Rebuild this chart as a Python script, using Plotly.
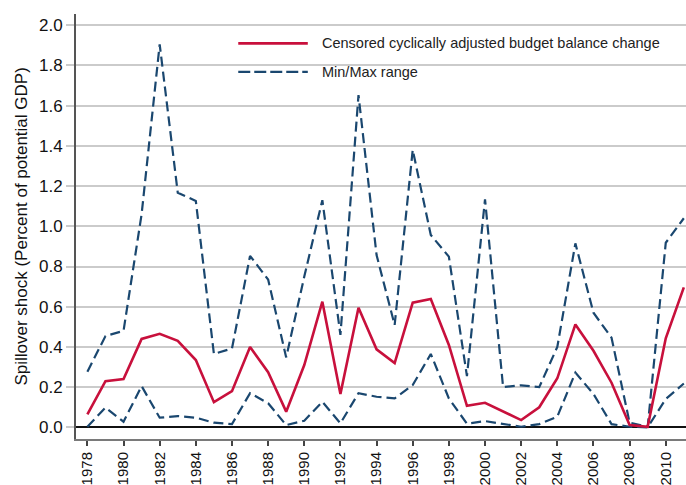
import plotly.graph_objects as go

years = list(range(1978, 2012))

# censored cyclically adjusted budget balance change
censored = [0.065, 0.23, 0.24, 0.44, 0.465, 0.43, 0.335, 0.125, 0.18,
            0.40, 0.274, 0.078, 0.31, 0.625, 0.166, 0.595, 0.388, 0.32,
            0.62, 0.638, 0.41, 0.107, 0.122, 0.078, 0.036, 0.10, 0.244,
            0.512, 0.381, 0.222, 0.011, 0.003, 0.443, 0.696]

# min / max range
range_max = [0.277, 0.454, 0.48, 1.06, 1.905, 1.167, 1.126, 0.365, 0.392,
             0.853, 0.735, 0.348, 0.75, 1.13, 0.46, 1.653, 0.857, 0.509,
             1.38, 0.957, 0.849, 0.255, 1.134, 0.20, 0.209, 0.20, 0.40,
             0.915, 0.57, 0.446, 0.023, 0.003, 0.918, 1.04]
range_min = [0.003, 0.098, 0.028, 0.205, 0.048, 0.056, 0.048, 0.023, 0.016,
             0.17, 0.12, 0.011, 0.033, 0.127, 0.02, 0.17, 0.152, 0.144,
             0.21, 0.365, 0.144, 0.018, 0.031, 0.016, 0.003, 0.016, 0.053,
             0.272, 0.166, 0.016, 0.003, 0.0, 0.141, 0.218]

xtick_vals = list(range(1978, 2012, 2))
ytick_vals = [0.0, 0.2, 0.4, 0.6, 0.8, 1.0, 1.2, 1.4, 1.6, 1.8, 2.0]

red = '#c8103c'
navy = '#1a476f'
grid_color = '#cbcbcb'
font_family = 'Liberation Sans, Arial, sans-serif'

fig = go.Figure()

fig.add_trace(go.Scatter(x=years, y=range_max, mode='lines',
                         line=dict(color=navy, width=2.2, dash='10px,5px'),
                         name='Min/Max range', showlegend=False))
fig.add_trace(go.Scatter(x=years, y=range_min, mode='lines',
                         line=dict(color=navy, width=2.2, dash='10px,5px'),
                         name='Min/Max range', showlegend=False))
fig.add_trace(go.Scatter(x=years, y=censored, mode='lines',
                         line=dict(color=red, width=2.6),
                         name='Censored cyclically adjusted budget balance change',
                         showlegend=False))

# hand-drawn legend (white box covering the gridlines, long line samples)
shapes = [
    dict(type='rect', xref='paper', yref='paper', x0=0.246, x1=1.0, y0=0.822, y1=1.0,
         fillcolor='white', line=dict(width=0), layer='between'),
    dict(type='line', xref='paper', yref='paper', x0=0.266, x1=0.38, y0=0.931, y1=0.931,
         line=dict(color=red, width=2.6)),
    dict(type='line', xref='paper', yref='paper', x0=0.266, x1=0.38, y0=0.864, y1=0.864,
         line=dict(color=navy, width=2.2, dash='12px,4px')),
]
annotations = [
    dict(xref='paper', yref='paper', x=0.400, y=0.931, xanchor='left', yanchor='middle',
         text='Censored cyclically adjusted budget balance change', showarrow=False,
         font=dict(family=font_family, size=14.5, color='#222222')),
    dict(xref='paper', yref='paper', x=0.400, y=0.864, xanchor='left', yanchor='middle',
         text='Min/Max range', showarrow=False,
         font=dict(family=font_family, size=14.5, color='#222222')),
    # y axis title
    dict(xref='paper', yref='paper', x=-0.09, y=0.5, xanchor='center', yanchor='middle',
         text='Spillover shock (Percent of potential GDP)', textangle=-90, showarrow=False,
         font=dict(family=font_family, size=17, color='#111111')),
]

fig.update_layout(
    width=686, height=485,
    margin=dict(l=76, r=0, t=14, b=46),
    paper_bgcolor='white', plot_bgcolor='white',
    font=dict(family=font_family, color='#111111'),
    shapes=shapes,
    annotations=annotations,
    showlegend=False,
    xaxis=dict(
        range=[1977.37, 2011.12],
        tickvals=xtick_vals,
        ticktext=[str(v) for v in xtick_vals],
        tickangle=-90,
        tickfont=dict(size=15, family=font_family, color='#111111'),
        ticks='outside', ticklen=5, tickwidth=1.5, tickcolor='#444444',
        showgrid=False, zeroline=False,
        showline=True, linecolor='#7a7a7a', linewidth=2,
        automargin=False,
    ),
    yaxis=dict(
        range=[-0.058, 2.056],
        tickvals=ytick_vals,
        ticktext=[f'{v:.1f}' for v in ytick_vals],
        tickfont=dict(size=17, family=font_family, color='#111111'),
        ticks='outside', ticklen=8, tickwidth=1.5, tickcolor=grid_color,
        showgrid=True, gridcolor=grid_color, gridwidth=1.6,
        zeroline=True, zerolinecolor='#111111', zerolinewidth=2,
        showline=True, linecolor='#555555', linewidth=2,
        automargin=False,
    ),
)

# the page's default body margin would push the figure off the window
fig.write_html("out.html", config={'displayModeBar': False},
               post_script="document.body.style.margin = '0';")
